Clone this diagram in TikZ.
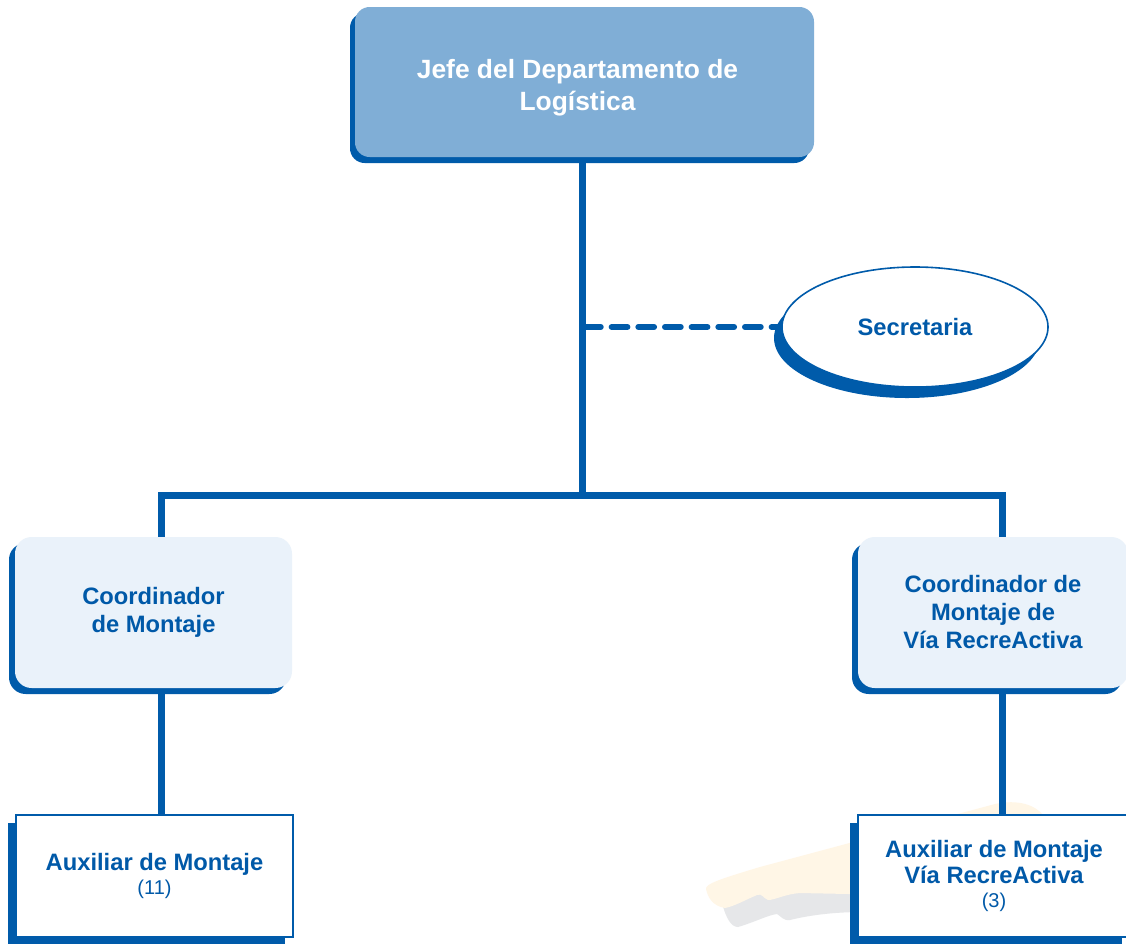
\documentclass[tikz,border=0pt]{standalone}
\usepackage{fontspec}
\setmainfont{Liberation Sans}
\usetikzlibrary{shadows,shapes.geometric}
\definecolor{dblue}{HTML}{005BAA}
\definecolor{topfill}{HTML}{80AED6}
\definecolor{coordfill}{HTML}{EAF2FA}
\definecolor{txtblue}{HTML}{0059A8}
\definecolor{cream}{HTML}{FFF6E6}
\definecolor{ghost}{HTML}{E6E7E9}
\pgfdeclarelayer{background}
\pgfsetlayers{background,main}

\begin{document}
\begin{tikzpicture}[x=0.75pt,y=-0.75pt,
  conn/.style={draw=dblue,line width=5.25pt},
  dashconn/.style={draw=dblue,line width=4.5pt,line cap=round,dash pattern=on 11.8pt off 8.2pt},
  headbox/.style={rectangle,rounded corners=11pt,fill=topfill,
    minimum width=344.25pt,minimum height=112.5pt,inner sep=0pt,
    drop shadow={shadow xshift=-3.75pt,shadow yshift=-4.5pt,fill=dblue,opacity=1}},
  headtext/.style={text=white,font=\bfseries\fontsize{19.8}{24}\selectfont,align=center,inner sep=0pt},
  coordbox/.style={rectangle,rounded corners=12.5pt,fill=coordfill,
    minimum height=113.25pt,inner sep=0pt,
    text=txtblue,font=\bfseries\fontsize{17.8}{21}\selectfont,align=center,
    drop shadow={shadow xshift=-4.5pt,shadow yshift=-4.5pt,fill=dblue,opacity=1}},
  auxbox/.style={rectangle,fill=white,draw=dblue,line width=1.5pt,
    minimum height=91.5pt,inner sep=0pt,
    text=txtblue,font=\bfseries\fontsize{17.8}{20}\selectfont,align=center,
    drop shadow={shadow xshift=-6pt,shadow yshift=-6pt,fill=dblue,opacity=1}},
  secbox/.style={ellipse,fill=white,draw=dblue,line width=1.2pt,
    minimum width=199.5pt,minimum height=90pt,inner sep=0pt,
    text=txtblue,font=\bfseries\fontsize{17.8}{21}\selectfont,
    drop shadow={shadow xshift=-6pt,shadow yshift=-8.25pt,fill=dblue,opacity=1}}
]
\clip (0,0) rectangle (1126,943);

% boxes
\node[headbox,label={[headtext,xshift=-5.25pt,yshift=-4.5pt]center:Jefe del Departamento de\\Logística}] (top) at (584.5,82) {};
\node[secbox] (sec) at (915,327) {Secretaria};
\node[coordbox,minimum width=207.75pt] (cm) at (153.5,612.5) {Coordinador\\de Montaje};
\node[coordbox,minimum width=202.5pt] (cv) at (993,612.5) {Coordinador de\\Montaje de\\Vía RecreActiva};
\node[auxbox,minimum width=207.75pt] (am) at (154.5,876) {Auxiliar de Montaje\\[-2pt]{\mdseries\fontsize{15}{20}\selectfont(11)}};
\node[auxbox,minimum width=204pt] (av) at (994,876) {Auxiliar de Montaje\\Vía RecreActiva\\[-2pt]{\mdseries\fontsize{15}{20}\selectfont(3)}};

% junction points of the connector tree
\coordinate (J) at (582,495.5);
\coordinate (L) at (161.5,495.5);
\coordinate (R) at (1002,495.5);

\begin{pgfonlayer}{background}
  \fill[white] (0,0) rectangle (1126,943);
  % faint logo behind the lower right box
  \fill[ghost] (722,903) .. controls (726,918) and (731,927) .. (738,927)
     .. controls (755,922) and (768,915) .. (777,914)
     .. controls (781,916) and (783,921) .. (790,920)
     .. controls (810,915) and (835,912) .. (862,912) -- (862,880) -- (760,880) -- cycle;
  \fill[cream] (706,889) .. controls (705,884) and (720,879) .. (760,867)
     -- (995,804) .. controls (1018,799) and (1035,805) .. (1043,815)
     -- (1043,898) -- (800,893)
     .. controls (785,894) and (775,900) .. (768,900)
     .. controls (763,898) and (762,893) .. (757,895)
     .. controls (745,900) and (735,906) .. (725,908)
     .. controls (713,906) and (708,898) .. (706,889) -- cycle;
  % connectors
  \draw[conn] (top.south -| J) -- (J);
  \draw[conn,line join=miter] (L |- cm.north) -- (L) -- (R) -- (R |- cv.north);
  \draw[conn] (L |- cm.south) -- (L |- am.north);
  \draw[conn] (R |- cv.south) -- (R |- av.north);
  \draw[dashconn] ([xshift=2.25pt]J |- sec.west) -- (sec.west);
\end{pgfonlayer}
\end{tikzpicture}
\end{document}
